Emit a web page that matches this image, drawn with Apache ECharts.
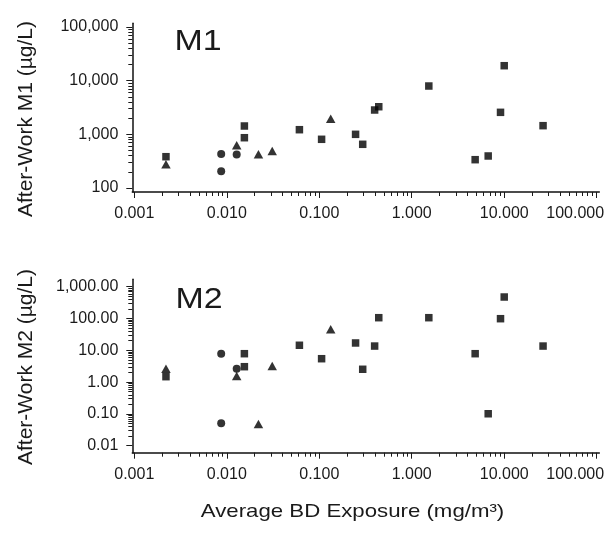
<!DOCTYPE html>
<html><head><meta charset="utf-8">
<script src="https://cdn.jsdelivr.net/npm/echarts@6/dist/echarts.min.js"></script>
<style>html,body{margin:0;padding:0;background:#fff}#c{width:609px;height:536px}</style>
</head><body><div id="c"></div>
<script>
// Tick labels
const xTickLabels = ['0.001', '0.010', '0.100', '1.000', '10.000', '100.000'];
const m1TickLabels = ['100', '1,000', '10,000', '100,000'];
const m2TickLabels = ['0.01', '0.10', '1.00', '10.00', '100.00', '1,000.00'];

// Squares
const squareX  = [0.0022, 0.0155, 0.0155, 0.061, 0.106, 0.247, 0.295, 0.397, 0.44, 1.53, 4.85, 6.71, 9.12, 10.0, 26.3];
const squareM1 = [383, 1430, 865, 1220, 808, 1000, 652, 2840, 3270, 7950, 337, 395, 2570, 19000, 1450];
const squareM2 = [1.48, 7.82, 3.05, 14.4, 5.44, 17.0, 2.53, 13.6, 106, 106, 7.82, 0.101, 98.6, 474, 13.6];
// Circles
const circleX  = [0.0087, 0.0087, 0.0128];
const circleM1 = [430, 205, 422];
const circleM2 = [7.82, 0.0506, 2.64];
// Triangles
const triangleX  = [0.0022, 0.0128, 0.022, 0.031, 0.133];
const triangleM1 = [277, 625, 424, 489, 1955];
const triangleM2 = [2.64, 1.56, 0.048, 3.21, 45.7];

const FONT = '"Liberation Sans", Arial, Helvetica, sans-serif';
const INK = '#1a1a1a';

function zip(a, b) { return a.map((v, i) => [v, b[i]]); }
function minorTicks(d0, d1) {
  const out = [];
  for (let d = d0; d < d1; d++) for (let k = 2; k <= 9; k++) out.push(d + Math.log10(k));
  return out;
}
function logLabel(arr, firstExp) {
  return v => arr[Math.round(Math.log10(v)) - firstExp];
}
function xLabel(v) {
  const i = Math.round(Math.log10(v)) + 3;
  const s = xTickLabels[i];
  return i === xTickLabels.length - 1 ? '{last|' + s + '}' : s;
}

const tickStyle = { color: INK, width: 1 };
const labelStyle = { color: INK, fontFamily: FONT, fontSize: 16 };

function logX(grid, offset) {
  return {
    type: 'log', logBase: 10, gridIndex: grid, min: 0.001, max: 100, position: 'bottom', offset,
    axisLine: { show: false, onZero: false },
    axisTick: { show: true, length: 6, lineStyle: tickStyle },
    axisLabel: Object.assign({
      margin: 14, formatter: xLabel,
      rich: { last: { color: INK, fontFamily: FONT, fontSize: 16, padding: [0, 43, 0, 0] } }
    }, labelStyle),
    splitLine: { show: false }, minorTick: { show: false }
  };
}
function logY(grid, min, max, labels, firstExp, offset) {
  return {
    type: 'log', logBase: 10, gridIndex: grid, min, max, position: 'left', offset,
    axisLine: { show: false, onZero: false },
    axisTick: { show: true, length: 6, lineStyle: tickStyle },
    axisLabel: Object.assign({ margin: 14, formatter: logLabel(labels, firstExp) }, labelStyle),
    splitLine: { show: false }, minorTick: { show: false }
  };
}
function minorAxis(grid, min, max, offset, pos) {
  return {
    type: 'value', gridIndex: grid, min, max, position: pos, offset,
    axisLine: { show: false, onZero: false },
    axisLabel: { show: false }, splitLine: { show: false },
    axisTick: { show: true, length: 4, lineStyle: tickStyle, customValues: minorTicks(min, max) }
  };
}
function frameAxis(grid, pos) {
  return {
    type: 'value', gridIndex: grid, min: 0, max: 1, position: pos,
    axisLine: { show: true, onZero: false, lineStyle: { color: '#111', width: 1.5 } },
    axisTick: { show: false }, axisLabel: { show: false }, splitLine: { show: false }
  };
}

const sqStyle = { symbol: 'rect', symbolSize: 7.5 };
const ciStyle = { symbol: 'circle', symbolSize: 8 };
const trStyle = { symbol: 'triangle', symbolSize: [9.5, 8.5] };

function sc(xi, yi, data, st) {
  return Object.assign({ type: 'scatter', xAxisIndex: xi, yAxisIndex: yi, data, itemStyle: { color: '#000' }, silent: true }, st);
}

const chart = echarts.init(document.getElementById('c'), null, { renderer: 'canvas' });
chart.setOption({
  animation: false,
  backgroundColor: '#fff',
  grid: [
    { left: 134.3, top: 27, width: 462.4, height: 161 },
    { left: 134.3, top: 286.7, width: 462.4, height: 159 },
    { left: 132.3, top: 23.3, width: 467, height: 168.7 },
    { left: 132.3, top: 279.3, width: 467, height: 173.4 }
  ],
  xAxis: [
    logX(0, 4),
    minorAxis(0, -3, 2, 4, 'bottom'),
    logX(1, 7),
    minorAxis(1, -3, 2, 7, 'bottom'),
    frameAxis(2, 'bottom'),
    frameAxis(3, 'bottom')
  ],
  yAxis: [
    logY(0, 100, 100000, m1TickLabels, 2, 2),
    minorAxis(0, 2, 5, 2, 'left'),
    logY(1, 0.01, 1000, m2TickLabels, -2, 2),
    minorAxis(1, -2, 3, 2, 'left'),
    frameAxis(2, 'left'),
    frameAxis(3, 'left')
  ],
  series: [
    sc(0, 0, zip(squareX, squareM1), sqStyle),
    sc(0, 0, zip(circleX, circleM1), ciStyle),
    sc(0, 0, zip(triangleX, triangleM1), trStyle),
    sc(2, 2, zip(squareX, squareM2), sqStyle),
    sc(2, 2, zip(circleX, circleM2), ciStyle),
    sc(2, 2, zip(triangleX, triangleM2), trStyle)
  ],
  graphic: [
    { type: 'text', x: 198, y: 42, scaleX: 1.17, silent: true,
      style: { text: 'M1', x: 0, y: 0, align: 'center', verticalAlign: 'middle', textAlign: 'center', textVerticalAlign: 'middle', fontSize: 29, fontFamily: FONT, fill: INK } },
    { type: 'text', x: 199, y: 299.5, scaleX: 1.17, silent: true,
      style: { text: 'M2', x: 0, y: 0, align: 'center', verticalAlign: 'middle', textAlign: 'center', textVerticalAlign: 'middle', fontSize: 29, fontFamily: FONT, fill: INK } },
    { type: 'text', x: 26, y: 119, rotation: Math.PI / 2, silent: true,
      style: { text: 'After-Work M1 (µg/L)', x: 0, y: 0, align: 'center', verticalAlign: 'middle', textAlign: 'center', textVerticalAlign: 'middle', fontSize: 21, fontFamily: FONT, fill: INK } },
    { type: 'text', x: 26, y: 367, rotation: Math.PI / 2, silent: true,
      style: { text: 'After-Work M2 (µg/L)', x: 0, y: 0, align: 'center', verticalAlign: 'middle', textAlign: 'center', textVerticalAlign: 'middle', fontSize: 21, fontFamily: FONT, fill: INK } },
    { type: 'text', x: 352.5, y: 512, scaleX: 1.17, silent: true,
      style: { text: 'Average BD Exposure (mg/m³)', x: 0, y: 0, align: 'center', verticalAlign: 'middle', textAlign: 'center', textVerticalAlign: 'middle', fontSize: 19, fontFamily: FONT, fill: INK } }
  ]
});
</script>
</body></html>
